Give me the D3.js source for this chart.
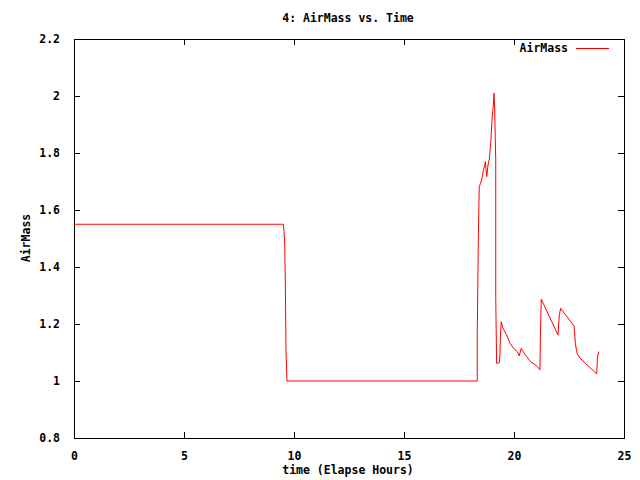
<!DOCTYPE html>
<html><head><meta charset="utf-8">
<script src="https://cdn.jsdelivr.net/npm/d3@7"></script>
<style>body{margin:0;background:#fff}svg{display:block}text{font-family:"DejaVu Sans Mono",monospace;font-size:11.5px;font-weight:bold;fill:#000}</style>
</head><body>
<script>
const title = "4: AirMass vs. Time";
const xLabel = "time (Elapse Hours)";
const yLabel = "AirMass";
const seriesName = "AirMass";
const xTicks = [0,5,10,15,20,25];
const yTicks = [0.8,1,1.2,1.4,1.6,1.8,2,2.2];
const timeHours = [0,9.515,9.545,9.576,9.606,9.636,9.68,18.33,18.33,18.38,18.42,18.48,18.545,18.61,18.67,18.70,18.76,18.82,18.88,18.94,19.0,19.06,19.09,19.12,19.17,19.17,19.21,19.33,19.36,19.39,19.42,19.5,19.66,19.82,19.99,20.15,20.24,20.33,20.42,20.58,20.75,20.91,21.07,21.18,21.20,21.24,22.0,22.06,22.12,22.73,22.79,22.85,22.88,23.0,23.73,23.76,23.79,23.85];
const airMass = [1.55,1.55,1.527,1.483,1.345,1.111,1.0,1.0,1.167,1.506,1.682,1.694,1.711,1.74,1.758,1.77,1.717,1.758,1.779,1.834,1.916,1.968,2.01,1.96,1.775,1.296,1.062,1.064,1.09,1.173,1.208,1.185,1.162,1.132,1.114,1.103,1.088,1.115,1.103,1.085,1.068,1.06,1.05,1.039,1.161,1.287,1.161,1.232,1.255,1.193,1.132,1.103,1.095,1.08,1.027,1.025,1.08,1.103];

const W=640,H=480, m={l:74,r:16,t:39,b:42};
const svg=d3.select("body").append("svg").attr("width",W).attr("height",H);
const x=d3.scaleLinear().domain([0,25]).range([m.l,W-m.r]);
const y=d3.scaleLinear().domain([0.8,2.2]).range([H-m.b,m.t]);
const fmt=d=>String(d);

const g=svg.append("g");
const axB=d3.axisBottom(x).tickValues(xTicks).tickSize(-6).tickFormat(fmt).tickPadding(14);
const axT=d3.axisTop(x).tickValues(xTicks).tickSize(-6).tickFormat("");
const axL=d3.axisLeft(y).tickValues(yTicks).tickSize(-6).tickFormat(fmt).tickPadding(14);
const axR=d3.axisRight(y).tickValues(yTicks).tickSize(-6).tickFormat("");
[[axB,`translate(0,${H-m.b})`],[axT,`translate(0,${m.t})`],[axL,`translate(${m.l},0)`],[axR,`translate(${W-m.r},0)`]].forEach(([a,t])=>{
  const gg=g.append("g").attr("transform",t).call(a);
  gg.select(".domain").remove();
  gg.selectAll("line").attr("stroke","#000").attr("shape-rendering","crispEdges");
  gg.selectAll("text").attr("font-family",null).attr("font-size",null).attr("fill","#000");
});
g.append("rect").attr("x",m.l+0.5).attr("y",m.t+0.5).attr("width",W-m.r-m.l).attr("height",H-m.b-m.t)
 .attr("fill","none").attr("stroke","#000").attr("shape-rendering","crispEdges");

const pts=timeHours.map((t,i)=>[t,airMass[i]]);
svg.append("path").datum(pts).attr("fill","none").attr("stroke","#ff0000").attr("stroke-width",1)
 .attr("d",d3.line().x(d=>x(d[0])).y(d=>y(d[1])));

svg.append("text").attr("x",348).attr("y",22).attr("text-anchor","middle").text(title);
svg.append("text").attr("x",348).attr("y",474).attr("text-anchor","middle").text(xLabel);
svg.append("text").attr("transform","translate(30,238) rotate(-90)").attr("text-anchor","middle").text(yLabel);
svg.append("text").attr("x",568).attr("y",52).attr("text-anchor","end").text(seriesName);
svg.append("line").attr("x1",576).attr("x2",609).attr("y1",48.5).attr("y2",48.5).attr("stroke","#ff0000");
</script>
</body></html>
